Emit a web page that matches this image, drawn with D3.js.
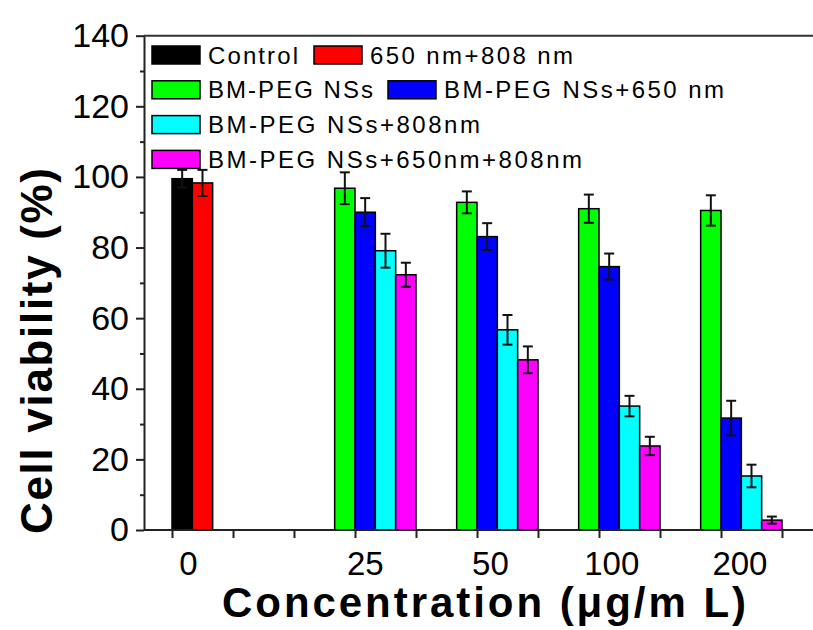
<!DOCTYPE html>
<html>
<head>
<meta charset="utf-8">
<script src="https://cdn.jsdelivr.net/npm/d3@7"></script>
<style>
	body { margin: 0; background: #fff; }
	svg { font-family: Arial, 'Liberation Sans', sans-serif; }
	.axis path, .axis line { stroke: #222; stroke-width: 2; }
	.axis text { font-size: 34px; fill: #000; }
</style>
</head>
<body>
<svg id="chart" width="813" height="630"></svg>
<script>
// concentration groups (x positions in tick-slot units)
var concentrations = ['0', '25', '50', '100', '200'];
var groupStart = [0, 8 / 3, 14 / 3, 20 / 3, 26 / 3];
var labelSlot = [0.27, 3.17, 5.22, 7.21, 9.31];

// series values and errors per concentration (null = no bar)
var seriesNames = ['Control', '650 nm+808 nm', 'BM-PEG NSs', 'BM-PEG NSs+650 nm', 'BM-PEG NSs+808nm', 'BM-PEG NSs+650nm+808nm'];
var seriesColors = ['#000000', '#ff0000', '#00ff00', '#0000ff', '#00ffff', '#ff00ff'];
var controlVal = [99.5, null, null, null, null];
var controlErr = [2.5, null, null, null, null];
var lightVal = [98.3, null, null, null, null];
var lightErr = [3.7, null, null, null, null];
var nsVal = [null, 96.8, 92.8, 91.0, 90.5];
var nsErr = [null, 4.5, 3.1, 4.0, 4.3];
var ns650Val = [null, 90.0, 83.1, 74.6, 31.7];
var ns650Err = [null, 4.0, 3.8, 3.7, 4.9];
var ns808Val = [null, 79.1, 56.7, 35.1, 15.3];
var ns808Err = [null, 4.8, 4.2, 2.9, 3.2];
var nsBothVal = [null, 72.3, 48.2, 23.8, 2.8];
var nsBothErr = [null, 3.4, 3.8, 2.6, 1.0];

var yTicks = [0, 20, 40, 60, 80, 100, 120, 140];

var svg = d3.select('#chart');

var x = d3.scaleLinear().domain([0, 10]).range([172, 782]);
var y = d3.scaleLinear().domain([0, 140]).range([530, 35.7]);
var axisLeft = 144;

var values = [controlVal, lightVal, nsVal, ns650Val, ns808Val, nsBothVal];
var errors = [controlErr, lightErr, nsErr, ns650Err, ns808Err, nsBothErr];

// flatten into bars: position within group depends on which series are present
var bars = [];
concentrations.forEach(function(c, gi) {
	var k = 0;
	values.forEach(function(v, si) {
		if (v[gi] === null) return;
		bars.push({ slot: groupStart[gi] + k / 3, value: v[gi], err: errors[si][gi], color: seriesColors[si] });
		k++;
	});
});

var barW = x(1 / 3) - x(0);

// top frame line
svg.append('line')
	.attr('x1', axisLeft).attr('x2', 813)
	.attr('y1', y(140)).attr('y2', y(140))
	.attr('stroke', '#333').attr('stroke-width', 2);

// bars
svg.append('g').selectAll('rect').data(bars).enter().append('rect')
	.attr('x', function(d) { return x(d.slot); })
	.attr('y', function(d) { return y(d.value); })
	.attr('width', barW)
	.attr('height', function(d) { return y(0) - y(d.value); })
	.attr('fill', function(d) { return d.color; })
	.attr('stroke', '#000')
	.attr('stroke-width', 1.5);

// error bars
var eb = svg.append('g').attr('stroke', '#111').attr('stroke-width', 2);
bars.forEach(function(d) {
	var cx = x(d.slot) + barW / 2;
	eb.append('line').attr('x1', cx).attr('x2', cx).attr('y1', y(d.value + d.err)).attr('y2', y(d.value - d.err));
	[d.value + d.err, d.value - d.err].forEach(function(v) {
		eb.append('line').attr('x1', cx - 5).attr('x2', cx + 5).attr('y1', y(v)).attr('y2', y(v));
	});
});

// y axis
var yAxis = svg.append('g').classed('axis', true)
	.attr('transform', 'translate(' + axisLeft + ',0)')
	.call(d3.axisLeft(y).tickValues(yTicks).tickSize(8).tickPadding(7).tickSizeOuter(0));
yAxis.selectAll('text').attr('dy', '0.32em');
svg.append('g').classed('axis', true)
	.attr('transform', 'translate(' + axisLeft + ',0)')
	.call(d3.axisLeft(y).tickValues(d3.range(10, 140, 20)).tickSize(4).tickFormat('').tickSizeOuter(0))
	.select('.domain').remove();

// x axis
var xAxis = svg.append('g').classed('axis', true)
	.attr('transform', 'translate(0,' + y(0) + ')')
	.call(d3.axisBottom(x).tickValues(d3.range(0, 11)).tickSize(8).tickFormat('').tickSizeOuter(0));
xAxis.select('.domain').attr('d', 'M' + axisLeft + ',0H813');

svg.append('g').selectAll('text').data(concentrations).enter().append('text')
	.attr('x', function(d, i) { return x(labelSlot[i]); })
	.attr('y', 575)
	.attr('text-anchor', 'middle')
	.style('font-size', '33px')
	.text(function(d) { return d; });

// axis titles
svg.append('text')
	.attr('x', 484).attr('y', 617)
	.attr('text-anchor', 'middle')
	.attr('textLength', 524).attr('lengthAdjust', 'spacing')
	.style('font-size', '42px').style('font-weight', 'bold')
	.text('Concentration (\u03bcg/m L)');

svg.append('text')
	.attr('transform', 'translate(52,351) rotate(-90)')
	.attr('text-anchor', 'middle')
	.attr('textLength', 366).attr('lengthAdjust', 'spacing')
	.style('font-size', '44px').style('font-weight', 'bold')
	.text('Cell viability (%)');

// legend
var legendLayout = [
	{ sx: 152, row: 0, w: 90 },
	{ sx: 314, row: 0, w: 203 },
	{ sx: 152, row: 1, w: 165 },
	{ sx: 388, row: 1, w: 280 },
	{ sx: 152, row: 2, w: 272 },
	{ sx: 152, row: 3, w: 374 }
];
var legend = svg.append('g').classed('legend', true);
seriesNames.forEach(function(name, i) {
	var l = legendLayout[i];
	var cy = 55 + l.row * 34.8;
	legend.append('rect')
		.attr('x', l.sx).attr('y', cy - 9)
		.attr('width', 48).attr('height', 18)
		.attr('fill', seriesColors[i])
		.attr('stroke', '#000').attr('stroke-width', 1.5);
	legend.append('text')
		.attr('x', l.sx + 56).attr('y', cy + 8.5)
		.attr('textLength', l.w).attr('lengthAdjust', 'spacing')
		.style('font-size', '24px')
		.text(name);
});
</script>
</body>
</html>
